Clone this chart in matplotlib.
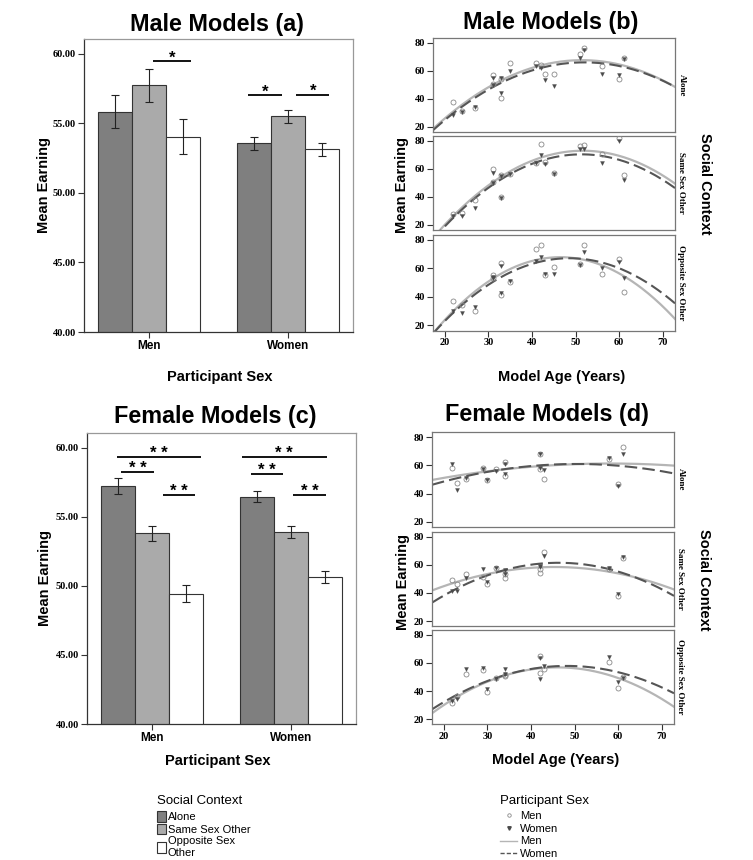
import numpy as np
import matplotlib
matplotlib.use('Agg')
import matplotlib.pyplot as plt
from matplotlib.patches import Patch
from matplotlib.lines import Line2D

plt.rcParams['font.family'] = ['Liberation Sans', 'DejaVu Sans']

W, H = 753, 860

sexes = ['Men', 'Women']
contexts = ['Alone', 'Same Sex Other', 'Opposite Sex Other']

# bar panels: rows = participant sex, cols = social context
male_mean = [[55.80, 57.72, 54.05], [53.59, 55.51, 53.13]]
male_lo = [[54.67, 56.52, 52.77], [53.11, 55.03, 52.68]]
male_hi = [[57.00, 58.92, 55.29], [54.02, 55.99, 53.57]]
female_mean = [[57.23, 53.79, 49.43], [56.46, 53.86, 50.64]]
female_lo = [[56.68, 53.24, 48.81], [56.05, 53.45, 50.20]]
female_hi = [[57.79, 54.34, 50.04], [56.87, 54.30, 51.05]]

# significance brackets: x from, x to, height, label
sig_a = [(0.03, 0.30, 59.45, '*'), (0.715, 0.955, 57.02, '*'), (1.06, 1.30, 57.07, '*')]
sig_c = [(-0.257, 0.355, 59.33, '* *'), (-0.223, 0.012, 58.27, '* *'), (0.076, 0.31, 56.58, '* *'),
         (0.645, 1.259, 59.30, '* *'), (0.71, 0.945, 58.07, '* *'), (1.019, 1.256, 56.58, '* *')]

# scatter panels, male models
male_ages = [22, 24, 27, 31, 31, 33, 33, 35, 41, 42, 43, 45, 51, 52, 56, 60, 61]
male_men = [
    [37.6, 31.3, 33.6, 56.8, 50.5, 54.0, 40.8, 65.4, 65.2, 63.8, 57.9, 57.9, 71.8, 76.0, 63.5, 54.4, 68.7],
    [27.5, 28.2, 37.6, 60.0, 50.5, 55.8, 39.8, 56.5, 64.2, 77.4, 64.8, 56.9, 76.2, 76.9, 70.4, 81.9, 55.3],
    [36.9, 34.5, 30.1, 55.6, 53.0, 63.4, 41.3, 50.2, 73.2, 76.2, 55.4, 60.8, 62.7, 76.2, 56.3, 66.6, 43.2],
]
male_women = [
    [28.2, 30.6, 34.1, 54.8, 49.8, 55.0, 44.0, 59.5, 63.3, 62.0, 53.6, 49.4, 68.9, 74.8, 57.9, 57.2, 68.5],
    [26.6, 26.6, 32.2, 57.2, 49.9, 55.0, 39.0, 56.5, 64.0, 69.9, 63.5, 56.5, 74.1, 74.1, 64.2, 79.5, 51.8],
    [30.1, 28.7, 32.9, 54.0, 53.3, 61.5, 42.7, 51.4, 65.0, 68.0, 55.9, 56.3, 62.2, 71.1, 60.5, 64.5, 53.0],
]

# scatter panels, female models
female_ages = [22, 23, 25, 29, 30, 32, 34, 34, 42, 42, 43, 58, 60, 61]
female_men = [
    [58.3, 47.6, 50.7, 58.3, 49.3, 57.1, 62.3, 52.4, 68.4, 57.8, 50.7, 64.6, 46.9, 72.9],
    [48.9, 46.1, 53.6, 51.3, 46.1, 57.6, 50.6, 53.6, 54.4, 57.2, 68.9, 57.2, 37.6, 64.7],
    [31.7, 36.4, 52.3, 54.7, 39.2, 49.1, 50.9, 51.6, 65.0, 52.8, 55.6, 61.0, 42.3, 50.0],
]
female_women = [
    [61.1, 42.9, 51.2, 57.1, 49.3, 55.9, 61.3, 54.0, 68.2, 58.3, 56.4, 65.4, 45.3, 68.4],
    [41.2, 41.2, 50.6, 57.2, 47.8, 57.9, 56.0, 53.2, 59.1, 58.4, 65.9, 57.9, 39.5, 65.4],
    [32.9, 34.1, 55.6, 56.3, 41.1, 48.6, 55.6, 52.3, 63.6, 48.6, 57.5, 64.5, 46.5, 49.0],
]

# quadratic fit lines, read at these ages
curve_ages = [18, 30, 40, 50, 60, 72]
male_fit_men = [
    [19.4, 50.6, 61.2, 67.1, 63.5, 50.5],
    [12.0, 51.0, 64.0, 72.4, 68.8, 51.5],
    [15.5, 53.8, 64.8, 65.7, 55.7, 28.0],
]
male_fit_women = [
    [18.5, 48.7, 59.5, 65.2, 62.8, 50.3],
    [11.0, 48.6, 62.9, 69.5, 65.7, 48.5],
    [15.5, 51.0, 62.9, 65.7, 59.5, 38.2],
]
female_fit_men = [
    [50.1, 55.7, 59.0, 61.2, 61.0, 60.1],
    [42.9, 52.9, 57.6, 58.1, 54.5, 43.0],
    [26.5, 45.0, 55.2, 58.1, 48.6, 30.3],
]
female_fit_women = [
    [46.7, 55.7, 59.5, 61.2, 59.3, 55.0],
    [35.2, 51.0, 60.0, 61.7, 55.7, 38.8],
    [28.8, 46.2, 55.7, 58.6, 53.3, 39.5],
]

bar_colors = ['#7f7f7f', '#aaaaaa', '#ffffff']
men_pt = '#8a8a8a'
women_pt = '#4a4a4a'
men_line = '#b5b5b5'
women_line = '#555555'
serif = 'Liberation Serif'

fig = plt.figure(figsize=(W / 100, H / 100), dpi=100)


def add_axes(l, t, r, b):
    return fig.add_axes([l / W, 1 - b / H, (r - l) / W, (b - t) / H])


def ftext(x, y, s, **kw):
    fig.text(x / W, 1 - y / H, s, ha='center', va='center', **kw)


def style_frame(ax):
    for side in ['top', 'right']:
        ax.spines[side].set_color('#999999')
    for side in ['left', 'bottom']:
        ax.spines[side].set_color('#333333')
    for s in ax.spines.values():
        s.set_linewidth(0.9)


def bar_panel(ax, mean, lo, hi, sig):
    width = 0.246
    for k in range(3):
        xs = [i + (k - 1) * width for i in range(2)]
        vals = [mean[i][k] for i in range(2)]
        err = [[vals[i] - lo[i][k] for i in range(2)], [hi[i][k] - vals[i] for i in range(2)]]
        ax.bar(xs, vals, width=width, color=bar_colors[k], edgecolor='#333333', linewidth=0.8, zorder=2)
        ax.errorbar(xs, vals, yerr=err, fmt='none', ecolor='#222222', elinewidth=0.8,
                    capsize=3, capthick=0.8, zorder=3)
    for x0, x1, y, lab in sig:
        ax.plot([x0, x1], [y, y], color='black', lw=1.3, solid_capstyle='butt')
        ax.text((x0 + x1) / 2, y - 0.3, lab, ha='center', va='bottom', fontsize=12, fontweight='bold')
    ax.set_xlim(-0.47, 1.47)
    ax.set_ylim(40, 61.06)
    ax.set_yticks([40, 45, 50, 55, 60])
    ax.set_yticklabels([f'{v:.2f}' for v in [40, 45, 50, 55, 60]], family=serif,
                       fontweight='bold', fontsize=7.5)
    ax.set_xticks([0, 1])
    ax.set_xticklabels(sexes, fontweight='bold', fontsize=8.5)
    ax.tick_params(direction='out', length=4, width=0.8, color='#333333', pad=2)
    style_frame(ax)


def age_panel(axes, ages, men, women, fit_men, fit_women):
    grid = np.linspace(17.3, 72.8, 200)
    for j, ax in enumerate(axes):
        cm = np.polyfit(curve_ages, fit_men[j], 2)
        cw = np.polyfit(curve_ages, fit_women[j], 2)
        ax.plot(grid, np.polyval(cm, grid), color=men_line, lw=1.6, zorder=2)
        ax.plot(grid, np.polyval(cw, grid), color=women_line, lw=1.5, dashes=(6, 2.5), zorder=2)
        ax.plot(ages, men[j], 'o', ms=3.6, mfc='none', mec=men_pt, mew=0.6, zorder=3)
        ax.plot(ages, women[j], 'v', ms=2.8, mfc=women_pt, mec=women_pt, mew=0.3, zorder=3)
        ax.set_xlim(17.3, 72.8)
        ax.set_ylim(16.5, 83.5)
        ax.set_yticks([20, 40, 60, 80])
        ax.set_yticklabels(['20', '40', '60', '80'], family=serif, fontweight='bold', fontsize=7.5)
        ax.set_xticks([20, 30, 40, 50, 60, 70])
        if j < 2:
            ax.tick_params(axis='x', bottom=False, labelbottom=False)
        else:
            ax.set_xticklabels(['20', '30', '40', '50', '60', '70'], family=serif,
                               fontweight='bold', fontsize=7.5)
        ax.tick_params(direction='out', length=4, width=0.8, color='#333333', pad=1.5)
        for s in ax.spines.values():
            s.set_color('#777777')
            s.set_linewidth(0.9)
        ax.text(1.01, 0.5, contexts[j], transform=ax.transAxes, rotation=270, ha='left',
                va='center', family=serif, fontweight='bold', fontsize=6.5)


# (a)
ax_a = add_axes(84, 39, 353, 332)
bar_panel(ax_a, male_mean, male_lo, male_hi, sig_a)
# (c)
ax_c = add_axes(87, 433, 356, 724)
bar_panel(ax_c, female_mean, female_lo, female_hi, sig_c)

# (b)
axes_b = [add_axes(433, 37.7, 675, 131.7), add_axes(433, 135.7, 675, 229.7), add_axes(433, 234.7, 675, 330.5)]
age_panel(axes_b, male_ages, male_men, male_women, male_fit_men, male_fit_women)
# (d)
axes_d = [add_axes(432, 432.3, 674, 526.7), add_axes(432, 531.7, 674, 626), add_axes(432, 630, 674, 724)]
age_panel(axes_d, female_ages, female_men, female_women, female_fit_men, female_fit_women)

ftext(217, 24, 'Male Models (a)', fontsize=16.8, fontweight='bold')
ftext(551, 23, 'Male Models (b)', fontsize=16.8, fontweight='bold')
ftext(215, 416, 'Female Models (c)', fontsize=16.8, fontweight='bold')
ftext(547, 415, 'Female Models (d)', fontsize=16.8, fontweight='bold')

ftext(44, 185, 'Mean Earning', fontsize=10.5, fontweight='bold', rotation=90)
ftext(45, 578, 'Mean Earning', fontsize=10.5, fontweight='bold', rotation=90)
ftext(402, 185, 'Mean Earning', fontsize=10.5, fontweight='bold', rotation=90)
ftext(403, 582, 'Mean Earning', fontsize=10.5, fontweight='bold', rotation=90)
ftext(705, 184, 'Social Context', fontsize=10.5, fontweight='bold', rotation=270)
ftext(704, 580, 'Social Context', fontsize=10.5, fontweight='bold', rotation=270)

ftext(220, 377, 'Participant Sex', fontsize=10.5, fontweight='bold')
ftext(218, 761, 'Participant Sex', fontsize=10.5, fontweight='bold')
ftext(562, 377, 'Model Age (Years)', fontsize=10.5, fontweight='bold')
ftext(556, 760, 'Model Age (Years)', fontsize=10.5, fontweight='bold')

# legends
bar_handles = [Patch(facecolor=c, edgecolor='#333333', linewidth=0.8) for c in bar_colors]
leg1 = fig.legend(bar_handles, ['Alone', 'Same Sex Other', 'Opposite Sex\nOther'],
                  loc='upper left', bbox_to_anchor=(150 / W, 1 - 788 / H), frameon=False,
                  title='Social Context', title_fontsize=9.5, fontsize=8, handlelength=0.8,
                  handleheight=1.1, handletextpad=0.2, labelspacing=0.15, borderpad=0.1)
pt_handles = [
    Line2D([], [], marker='o', ls='none', ms=2.5, mfc='none', mec=men_pt, mew=0.6),
    Line2D([], [], marker='v', ls='none', ms=2.5, mfc=women_pt, mec=women_pt),
    Line2D([], [], color=men_line, lw=1.0),
    Line2D([], [], color=women_line, lw=1.0, dashes=(3, 1.5)),
]
leg2 = fig.legend(pt_handles, ['Men', 'Women', 'Men', 'Women'],
                  loc='upper left', bbox_to_anchor=(493 / W, 1 - 788 / H), frameon=False,
                  title='Participant Sex', title_fontsize=9.5, fontsize=8, handlelength=1.6,
                  handletextpad=0.2, labelspacing=0.25, borderpad=0.1)
for leg in (leg1, leg2):
    leg._legend_box.align = 'left'
    leg._legend_box.sep = 3

fig.savefig('out.png', dpi=100)
